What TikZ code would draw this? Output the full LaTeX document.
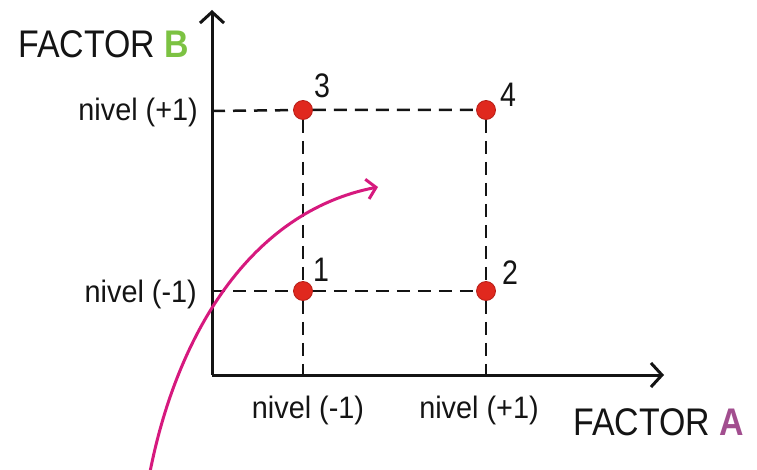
\documentclass[tikz,border=0pt]{standalone}
\usepackage{fontspec}
\setmainfont{Liberation Sans}
\newfontfamily\narrowfont[FakeStretch=0.84]{Liberation Sans}
\newfontfamily\factorfont[FakeStretch=0.88]{Liberation Sans}
\newfontfamily\levelfont[FakeStretch=0.93]{Liberation Sans}
\usetikzlibrary{arrows.meta,positioning}
\definecolor{ink}{HTML}{141414}
\definecolor{dotred}{HTML}{E0281E}
\definecolor{dotedge}{HTML}{B81D16}
\definecolor{magenta}{HTML}{D6197E}
\definecolor{green}{HTML}{7CC242}
\definecolor{purple}{HTML}{A24E8F}
\tikzset{axis/.style={ink,line width=3pt,-{Straight Barb[length=11pt,width=24pt,line width=3pt]}},guide/.style={ink,line width=2.5pt,dash pattern=on 13pt off 8pt},dot/.style={circle,fill=dotred,draw=dotedge,line width=0.8pt,minimum size=19pt,inner sep=0pt},lvl/.style={ink,font=\levelfont\fontsize{31}{34}\selectfont,inner sep=0pt},num/.style={ink,font=\narrowfont\fontsize{34}{38}\selectfont,inner sep=0pt},fac/.style={ink,font=\factorfont\fontsize{38.5}{42}\selectfont,inner sep=0pt},path/.style={magenta,line width=3pt,-{Straight Barb[length=9pt,width=20pt,line width=3pt]}}}

\begin{document}
\begin{tikzpicture}[x=1pt,y=-1pt]
\useasboundingbox (0,0) rectangle (757,470);
\coordinate (origin) at (212,375);
\coordinate (ytip) at (212,10);
\coordinate (xtip) at (664,375);
\coordinate (bup) at (212,111);
\coordinate (blow) at (212,291);
\coordinate (aleft) at (303,375);
\coordinate (aright) at (486,375);
\node[dot] (p3) at (303,110) {};
\node[dot] (p4) at (486,110) {};
\node[dot] (p1) at (303,291) {};
\node[dot] (p2) at (486,291) {};
% dashed guides
\draw[guide] (bup)--(p3)--(p4); \draw[guide] (blow)--(p1)--(p2);
\draw[guide] (p3)--(p1)--(aleft); \draw[guide] (p4)--(p2)--(aright);
\draw[axis] (origin)--(ytip); \draw[axis] (origin)--(xtip);
\node[num] (n3) at (322,86) {3};
\node[num] (n4) at (508,95) {4};
\node[num] (n1) at (321,270) {1};
\node[num] (n2) at (510,273) {2};
\node[lvl,anchor=east] (bhigh) at (198,112) {nivel (+1)};
\node[lvl,anchor=east] (blowtxt) at (197,294) {nivel (-1)};
\node[lvl] (alowtxt) at (308,410) {nivel (-1)};
\node[lvl] (ahightxt) at (479,410) {nivel (+1)};
\node[fac,anchor=west] (facb) at (18,44) {FACTOR \textcolor{green}{\textbf{B}}};
\node[fac,anchor=west] (faca) at (573,422) {FACTOR \textcolor{purple}{\textbf{A}}};
\coordinate (pstart) at (150,472);
\coordinate (pend) at (378,187);
\draw[path] (pstart) .. controls (177,335) and (250,212) .. (pend);
\end{tikzpicture}
\end{document}
